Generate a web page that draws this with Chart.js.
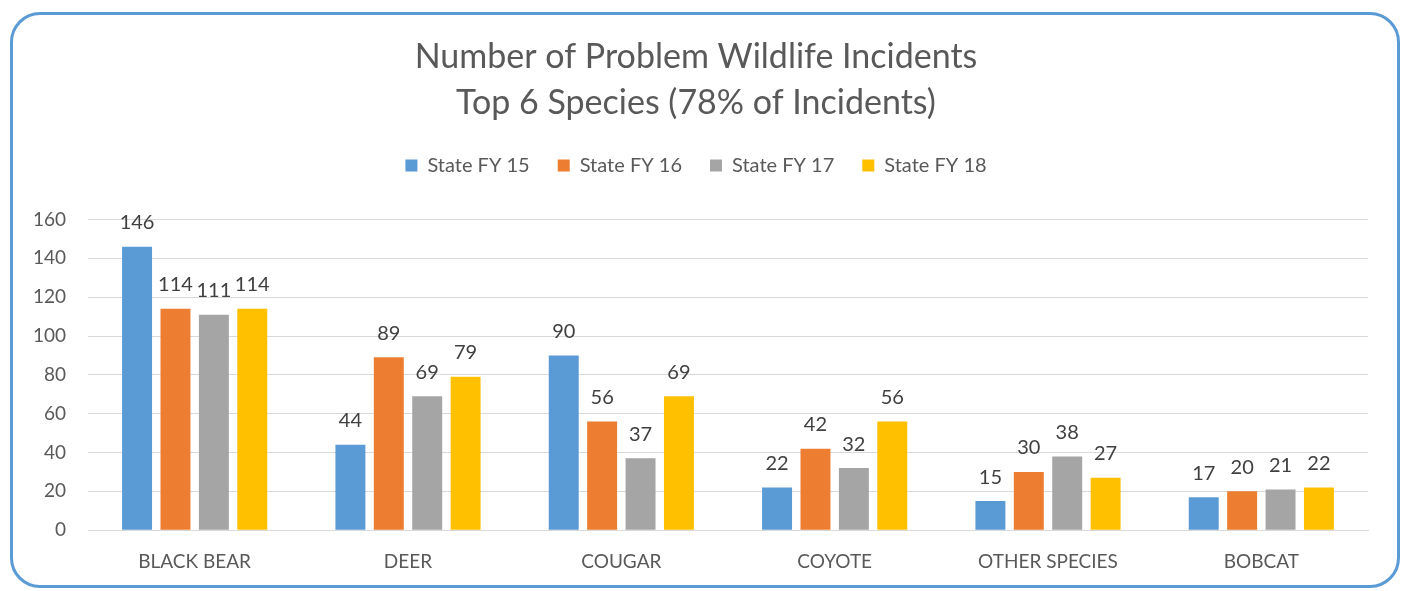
<!DOCTYPE html>
<html>
<head>
<meta charset="utf-8">
<script src="https://cdn.jsdelivr.net/npm/chart.js@4/dist/chart.umd.min.js"></script>
<style>
  html, body { margin: 0; padding: 0; background: #fff; }
  #frame {
    position: absolute; left: 10px; top: 12px; width: 1384px; height: 570px;
    border: 3px solid #5b9bd5; border-radius: 30px;
  }
  #wrap { position: absolute; left: 0; top: 0; width: 1403px; height: 591px; }
</style>
</head>
<body>
<div id="frame"></div>
<div id="wrap"><canvas id="incidentsChart"></canvas></div>
<script>
const species = ["BLACK BEAR", "DEER", "COUGAR", "COYOTE", "OTHER SPECIES", "BOBCAT"];
const fy15 = [146, 44, 90, 22, 15, 17];
const fy16 = [114, 89, 56, 42, 30, 20];
const fy17 = [111, 69, 37, 32, 38, 21];
const fy18 = [114, 79, 69, 56, 27, 22];
const seriesNames = ["State FY 15", "State FY 16", "State FY 17", "State FY 18"];
const seriesColors = ["#5b9bd5", "#ed7d31", "#a5a5a5", "#ffc000"];

const FONT = "Lato, 'Open Sans', sans-serif";
const TEXT = "#595959";

// draws the value above each bar
const valueLabels = {
  id: "valueLabels",
  afterDatasetsDraw(chart) {
    const ctx = chart.ctx;
    ctx.save();
    ctx.font = "20px " + FONT;
    ctx.fillStyle = "#404040";
    ctx.textAlign = "center";
    ctx.textBaseline = "bottom";
    chart.data.datasets.forEach((ds, i) => {
      chart.getDatasetMeta(i).data.forEach((bar, j) => {
        ctx.fillText(ds.data[j], bar.x, bar.y - 14);
      });
    });
    ctx.restore();
  },
};

// extra room under the legend
const legendGap = {
  id: "legendGap",
  beforeInit(chart) {
    const fit = chart.legend.fit;
    chart.legend.fit = function () {
      fit.call(this);
      this.height += 34;
    };
  },
};

const ctx = document.getElementById("incidentsChart").getContext("2d");
new Chart(ctx, {
  type: "bar",
  data: {
    labels: species,
    datasets: [fy15, fy16, fy17, fy18].map((d, i) => ({
      label: seriesNames[i],
      data: d,
      backgroundColor: seriesColors[i],
      categoryPercentage: 0.72,
      barPercentage: 0.78,
    })),
  },
  options: {
    responsive: true,
    maintainAspectRatio: false,
    animation: false,
    layout: { padding: { left: 24, right: 35, top: 34, bottom: 6 } },
    plugins: {
      title: {
        display: true,
        text: ["Number of Problem Wildlife Incidents", "Top 6 Species (78% of Incidents)"],
        color: TEXT,
        font: { family: FONT, size: 34, weight: "normal", lineHeight: 1.36 },
        padding: { top: 0, bottom: 1 },
      },
      legend: {
        position: "top",
        labels: {
          color: TEXT,
          font: { family: FONT, size: 20 },
          boxWidth: 12,
          boxHeight: 12,
          padding: 28,
        },
      },
      tooltip: { enabled: false },
    },
    scales: {
      x: {
        grid: { display: false },
        border: { color: "#d9d9d9" },
        ticks: { color: TEXT, font: { family: FONT, size: 19 }, padding: 12 },
      },
      y: {
        min: 0,
        max: 160,
        ticks: { stepSize: 20, color: TEXT, font: { family: FONT, size: 19 }, padding: 22 },
        grid: { color: "#d9d9d9", drawTicks: false },
        border: { display: false },
        afterFit(scale) { scale.width = 64; },
      },
    },
  },
  plugins: [valueLabels, legendGap],
});
</script>
</body>
</html>
